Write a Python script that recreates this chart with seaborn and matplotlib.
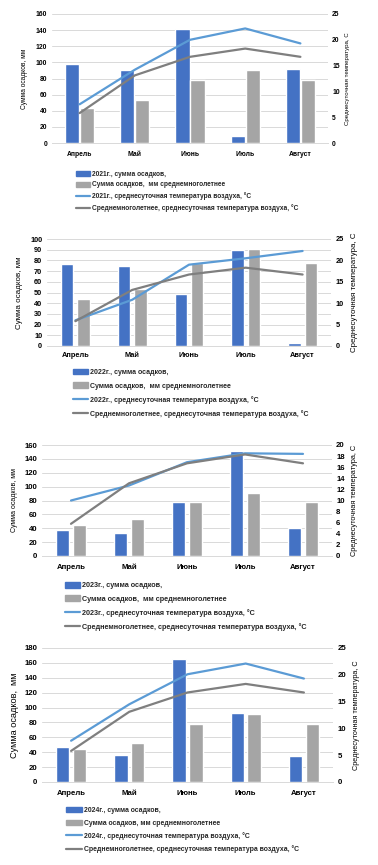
import numpy as np
import pandas as pd
import matplotlib
matplotlib.use("Agg")
import matplotlib.pyplot as plt
import seaborn as sns
from matplotlib.patches import Patch
from matplotlib.lines import Line2D

months = ["Апрель", "Май", "Июнь", "Июль", "Август"]
precip_norm = [44, 53, 78, 91, 78]
temp_norm = [5.8, 13.1, 16.7, 18.3, 16.7]

precip_2021 = [98, 90, 142, 9, 92]
temp_2021 = [7.5, 14.2, 20.0, 22.2, 19.3]
precip_2022 = [77, 75, 49, 90, 3]
temp_2022 = [6.0, 10.8, 19.0, 20.5, 22.2]
precip_2023 = [38, 33, 78, 151, 40]
temp_2023 = [10.0, 12.7, 16.9, 18.5, 18.4]
precip_2024 = [47, 36, 165, 93, 35]
temp_2024 = [7.7, 14.5, 20.1, 22.1, 19.3]

years = ["2021", "2022", "2023", "2024"]
left_ticks = [list(range(0, 161, 20)), list(range(0, 101, 10)),
              list(range(0, 161, 20)), list(range(0, 181, 20))]
right_ticks = [list(range(0, 26, 5)), list(range(0, 26, 5)),
               list(range(0, 21, 2)), list(range(0, 26, 5))]

BLUE_BAR = "#4472C4"
GRAY_BAR = "#A5A5A5"
BLUE_LINE = "#5B9BD5"
GRAY_LINE = "#7F7F7F"
TXT = "#262626"

sns.set_theme(style="white")
plt.rcParams["font.family"] = ["Liberation Sans", "DejaVu Sans"]

W, H = 378, 865
fig = plt.figure(figsize=(W / 100, H / 100), dpi=100)

# (left px, bottom px, right px, top px)
boxes = [(52, 143, 328, 14), (47, 346, 331, 239), (42, 556, 332, 445), (42, 782, 333, 648)]
legend_xy = [(76, 170.5), (73, 369), (65, 582), (66, 807)]
leg_fs = [4.8, 5.05, 5.2, 4.95]
leg_ls = [0.6, 0.9, 0.85, 0.8]
leg_hl = [2.1, 2.1, 2.1, 2.3]
tick_fs = [4.9, 5.3, 5.6, 5.6]
x_pad = [6, 4.5, 6, 5.5]
left_lab_fs = [4.8, 5.8, 5.0, 6.6]
left_lab_x = [24, 20, 15, 15]
right_lab_fs = [4.4, 5.7, 5.3, 5.2]
right_lab_x = [348, 355, 355, 356]
right_pad = [3.0, 3.5, 3.0, 3.5]
bar_w = [0.54, 0.58, 0.58, 0.58]
bar_gap = [0.05, 0.24, 0.24, 0.2]
precips = [precip_2021, precip_2022, precip_2023, precip_2024]
temps = [temp_2021, temp_2022, temp_2023, temp_2024]
norm_labels = ["Сумма осадков,  мм среднемноголетнее",
               "Сумма осадков,  мм среднемноголетнее",
               "Сумма осадков,  мм среднемноголетнее",
               "Сумма осадков, мм среднемноголетнее"]
left_labels = ["Сумма осадков, мм", "Сумма осадков, мм",
               "Сумма осадков, мм", "Сумма осадков,  мм"]

for i in range(4):
    l, b, r, t = boxes[i]
    ax = fig.add_axes((l / W, 1 - b / H, (r - l) / W, (b - t) / H))
    yr = years[i]
    s_bar = f"{yr}г., сумма осадков,"
    df = pd.DataFrame({
        "month": months * 2,
        "value": precips[i] + precip_norm,
        "series": [s_bar] * 5 + [norm_labels[i]] * 5,
    })
    sns.barplot(data=df, x="month", y="value", hue="series",
                palette=[BLUE_BAR, GRAY_BAR], width=bar_w[i], gap=bar_gap[i],
                ax=ax, legend=False, saturation=1)
    ax.set_xlim(-0.5, 4.5)
    ax.set_ylim(0, left_ticks[i][-1])
    ax.set_yticks(left_ticks[i])
    ax.yaxis.grid(True, color="#D9D9D9", linewidth=0.7)
    ax.set_axisbelow(True)
    for s in ["top", "left", "right"]:
        ax.spines[s].set_visible(False)
    ax.spines["bottom"].set_color("#D9D9D9")
    ax.spines["bottom"].set_linewidth(0.7)
    ax.tick_params(axis="y", length=0, labelsize=tick_fs[i], colors="black", pad=3.5)
    ax.tick_params(axis="x", length=0, labelsize=tick_fs[i], colors="black", pad=x_pad[i])
    if i == 1:
        ax.set_xticks(np.arange(-0.5, 5, 1), minor=True)
        ax.tick_params(axis="x", which="minor", length=2.5, color="#D9D9D9", width=0.7)
    ax.set_xlabel("")
    ax.set_ylabel("")
    for lab in ax.get_xticklabels() + ax.get_yticklabels():
        lab.set_fontweight("bold")
    fig.text(left_lab_x[i] / W, 1 - (b + t) / 2 / H, left_labels[i], rotation=90,
             ha="center", va="center", fontsize=left_lab_fs[i], color="black")

    ax2 = ax.twinx()
    xs = np.arange(len(months))
    sns.lineplot(x=xs, y=temps[i], ax=ax2, color=BLUE_LINE, linewidth=1.6)
    sns.lineplot(x=xs, y=temp_norm, ax=ax2, color=GRAY_LINE, linewidth=1.6)
    ax2.set_ylim(0, right_ticks[i][-1])
    ax2.set_yticks(right_ticks[i])
    ax2.set_xlim(-0.5, 4.5)
    for s in ["top", "left", "right", "bottom"]:
        ax2.spines[s].set_visible(False)
    ax2.tick_params(axis="y", length=0, labelsize=tick_fs[i], colors="black", pad=right_pad[i])
    for lab in ax2.get_yticklabels():
        lab.set_fontweight("bold")
    ax2.set_ylabel("")
    ax2.grid(False)
    fig.text(right_lab_x[i] / W, 1 - (b + t) / 2 / H, "Среднесуточная температура, С",
             rotation=90, ha="center", va="center", fontsize=right_lab_fs[i], color="black")

    handles = [Patch(color=BLUE_BAR), Patch(color=GRAY_BAR),
               Line2D([0], [0], color=BLUE_LINE, lw=1.6),
               Line2D([0], [0], color=GRAY_LINE, lw=1.6)]
    labels = [s_bar, norm_labels[i],
              f"{yr}г., среднесуточная температура воздуха, °С",
              "Среднемноголетнее, среднесуточная температура воздуха, °С"]
    lx, ly = legend_xy[i]
    leg = fig.legend(handles, labels, loc="upper left", bbox_to_anchor=(lx / W, 1 - ly / H),
                     frameon=False, fontsize=leg_fs[i], borderpad=0, borderaxespad=0,
                     handlelength=leg_hl[i], handleheight=0.8, handletextpad=0.3,
                     labelspacing=leg_ls[i])
    for tx in leg.get_texts():
        tx.set_fontweight("bold")
        tx.set_color(TXT)

fig.savefig("out.png", dpi=100, facecolor="white")
